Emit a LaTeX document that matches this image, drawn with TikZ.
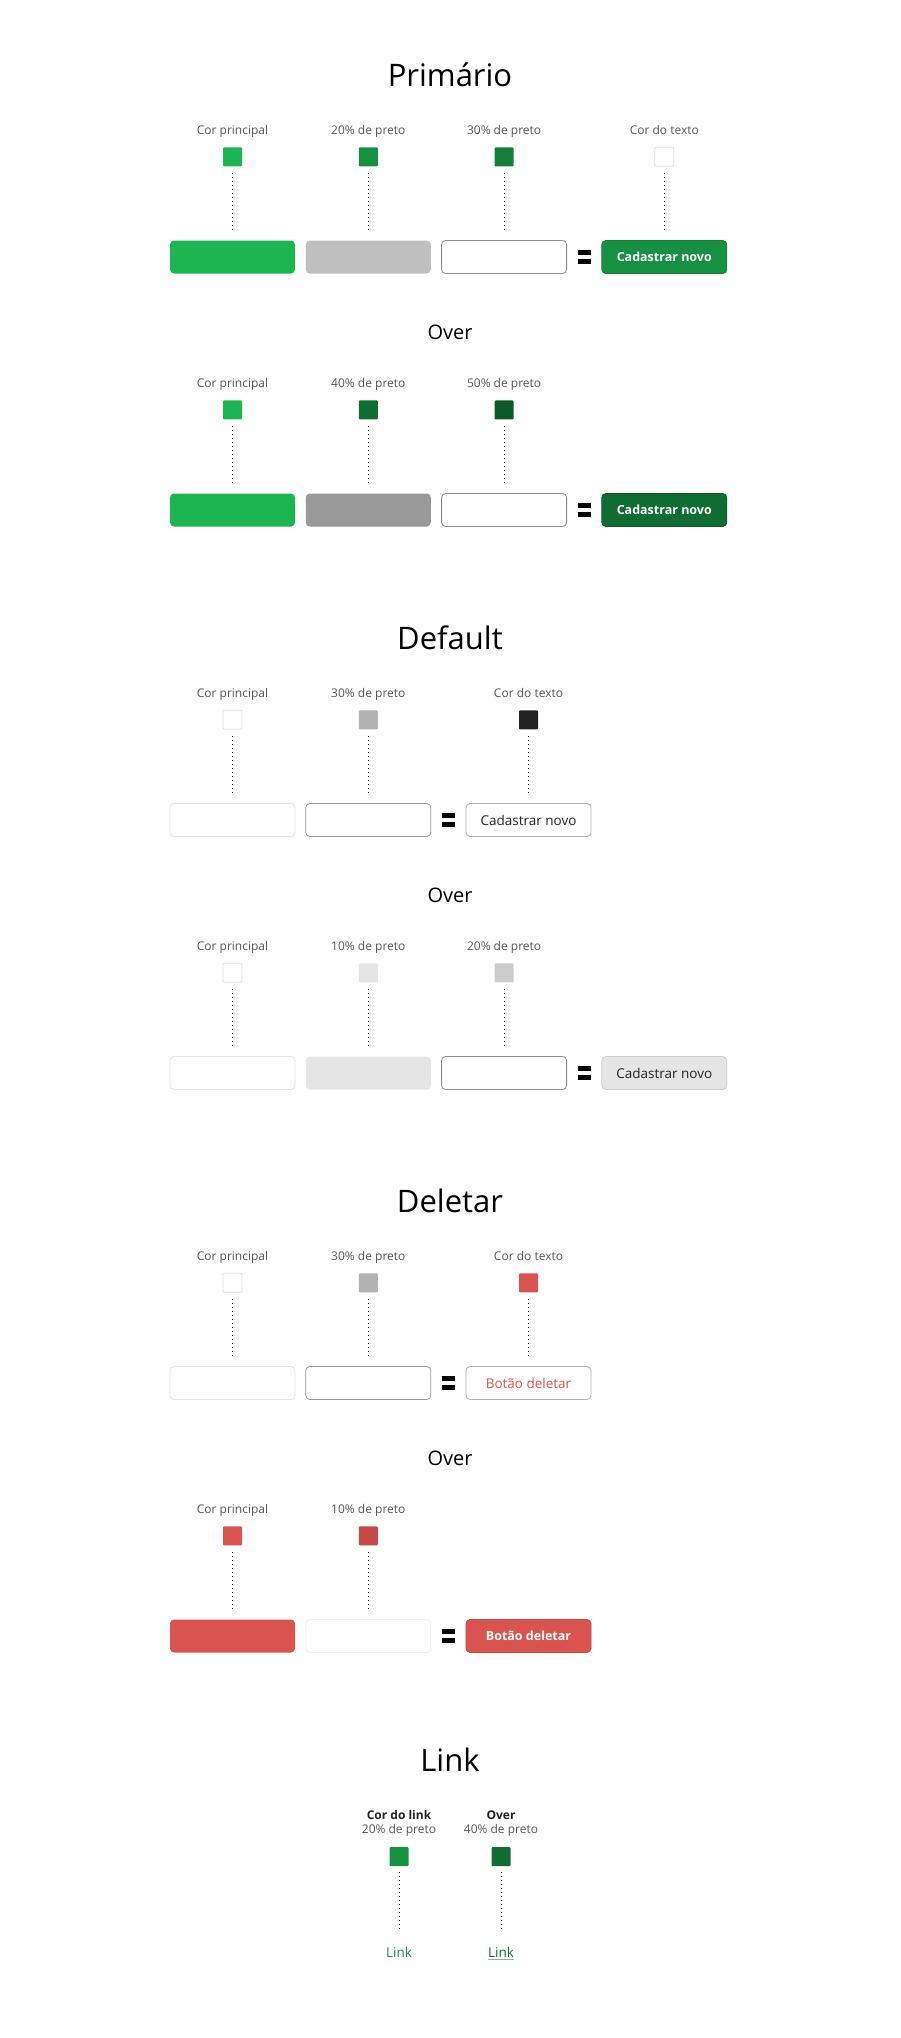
\documentclass[tikz,border=0pt]{standalone}
\usepackage{fontspec}
\setmainfont{Open Sans}
\usepackage{tikz}
\usetikzlibrary{positioning}

\definecolor{verde}{RGB}{27,181,82}
\definecolor{vermelho}{RGB}{217,83,79}
\definecolor{cinzaRotulo}{RGB}{85,85,85}
\definecolor{tinta}{RGB}{34,34,34}

\newcommand{\sinalIgual}{\vbox{\hrule width 13pt height 5pt depth 0pt\vskip 3.5pt\hrule width 13pt height 5pt depth 0pt}}

\begin{document}
\begin{tikzpicture}[x=1pt,y=-1pt,
	titulo/.style={font=\fontsize{31}{36}\selectfont,text=black,anchor=base,inner sep=0},
	subtitulo/.style={font=\fontsize{20}{24}\selectfont,text=black,anchor=base,inner sep=0},
	rotulo/.style={font=\fontsize{12}{14}\selectfont,text=cinzaRotulo,anchor=base,inner sep=0},
	amostra/.style={minimum size=19pt,inner sep=0,rounded corners=1pt},
	branca/.style={amostra,fill=white,draw=black!12,line width=0.8pt},
	caixa/.style={minimum width=125pt,minimum height=33pt,inner sep=0,rounded corners=4pt,line width=0.8pt},
	botao/.style={caixa,font=\fontsize{12.5}{15}\selectfont\bfseries,text=white},
	botaoClaro/.style={caixa,font=\fontsize{13.5}{16}\selectfont},
	link/.style={font=\fontsize{13.5}{16}\selectfont,anchor=base,inner sep=0},
	pontos/.style={line width=1pt,dash pattern=on 1pt off 3pt,shorten <=6pt,shorten >=8pt},
	igual/.style={inner sep=0}]
\fill[white] (0,0) rectangle (900,2038);
\useasboundingbox (0,0) rectangle (900,2038);

% Primario
\node[titulo] (tPrim) at (450,86.7) {Primário};
\node[caixa,fill=verde] (cA1) at (232.5,257) {};
\node[caixa,fill=black!25,right=10pt of cA1] (cA2) {};
\node[caixa,fill=white,draw=black!45,right=10pt of cA2] (cA3) {};
\node[igual,right=10.5pt of cA3] (iA) {\sinalIgual};
\node[botao,fill=verde!80!black,draw=verde!70!black,right=10.5pt of iA] (cA4) {Cadastrar novo};
\node[amostra,fill=verde,above=73.5pt of cA1] (sA1) {};
\node[amostra,fill=verde!80!black,above=73.5pt of cA2] (sA2) {};
\node[amostra,fill=verde!70!black,above=73.5pt of cA3] (sA3) {};
\node[branca,above=73.5pt of cA4] (sA4) {};
\foreach \n/\txt in {1/Cor principal,2/20\% de preto,3/30\% de preto,4/Cor do texto}{
	\node[rotulo] (rA\n) at ([yshift=22.2pt]sA\n.center) {\txt};
	\draw[pontos] (sA\n) -- (cA\n);
}

\node[subtitulo] (tOverA) at (450,339) {Over};
\node[caixa,fill=verde] (cB1) at (232.5,510) {};
\node[caixa,fill=black!40,right=10pt of cB1] (cB2) {};
\node[caixa,fill=white,draw=black!45,right=10pt of cB2] (cB3) {};
\node[igual,right=10.5pt of cB3] (iB) {\sinalIgual};
\node[botao,fill=verde!60!black,draw=verde!50!black,right=10.5pt of iB] (cB4) {Cadastrar novo};
\node[amostra,fill=verde,above=73.5pt of cB1] (sB1) {};
\node[amostra,fill=verde!60!black,above=73.5pt of cB2] (sB2) {};
\node[amostra,fill=verde!50!black,above=73.5pt of cB3] (sB3) {};
\foreach \n/\txt in {1/Cor principal,2/40\% de preto,3/50\% de preto}{
	\node[rotulo] (rB\n) at ([yshift=22.2pt]sB\n.center) {\txt};
	\draw[pontos] (sB\n) -- (cB\n);
}

% Default
\node[titulo] (tDef) at (450,649) {Default};
\node[caixa,fill=white,draw=black!10] (cC1) at (232.5,820) {};
\node[caixa,fill=white,draw=black!40,right=10pt of cC1] (cC2) {};
\node[igual,right=10.5pt of cC2] (iC) {\sinalIgual};
\node[botaoClaro,fill=white,draw=black!30,text=tinta,right=10.5pt of iC] (cC3) {Cadastrar novo};
\node[branca,above=73.5pt of cC1] (sC1) {};
\node[amostra,fill=black!30,above=73.5pt of cC2] (sC2) {};
\node[amostra,fill=tinta,above=73.5pt of cC3] (sC3) {};
\foreach \n/\txt in {1/Cor principal,2/30\% de preto,3/Cor do texto}{
	\node[rotulo] (rC\n) at ([yshift=22.2pt]sC\n.center) {\txt};
	\draw[pontos] (sC\n) -- (cC\n);
}

\node[subtitulo] (tOverC) at (450,902) {Over};
\node[caixa,fill=white,draw=black!10] (cD1) at (232.5,1073) {};
\node[caixa,fill=black!10,right=10pt of cD1] (cD2) {};
\node[caixa,fill=white,draw=black!45,right=10pt of cD2] (cD3) {};
\node[igual,right=10.5pt of cD3] (iD) {\sinalIgual};
\node[botaoClaro,fill=black!10,draw=black!20,text=tinta,right=10.5pt of iD] (cD4) {Cadastrar novo};
\node[branca,above=73.5pt of cD1] (sD1) {};
\node[amostra,fill=black!10,above=73.5pt of cD2] (sD2) {};
\node[amostra,fill=black!20,above=73.5pt of cD3] (sD3) {};
\foreach \n/\txt in {1/Cor principal,2/10\% de preto,3/20\% de preto}{
	\node[rotulo] (rD\n) at ([yshift=22.2pt]sD\n.center) {\txt};
	\draw[pontos] (sD\n) -- (cD\n);
}

% Deletar
\node[titulo] (tDel) at (450,1212) {Deletar};
\node[caixa,fill=white,draw=black!10] (cE1) at (232.5,1383) {};
\node[caixa,fill=white,draw=black!40,right=10pt of cE1] (cE2) {};
\node[igual,right=10.5pt of cE2] (iE) {\sinalIgual};
\node[botaoClaro,fill=white,draw=black!30,text=vermelho,right=10.5pt of iE] (cE3) {Botão deletar};
\node[branca,above=73.5pt of cE1] (sE1) {};
\node[amostra,fill=black!30,above=73.5pt of cE2] (sE2) {};
\node[amostra,fill=vermelho,above=73.5pt of cE3] (sE3) {};
\foreach \n/\txt in {1/Cor principal,2/30\% de preto,3/Cor do texto}{
	\node[rotulo] (rE\n) at ([yshift=22.2pt]sE\n.center) {\txt};
	\draw[pontos] (sE\n) -- (cE\n);
}

\node[subtitulo] (tOverE) at (450,1465) {Over};
\node[caixa,fill=vermelho] (cF1) at (232.5,1636) {};
\node[caixa,fill=white,draw=black!6,right=10pt of cF1] (cF2) {};
\node[igual,right=10.5pt of cF2] (iF) {\sinalIgual};
\node[botao,fill=vermelho,draw=vermelho!90!black,right=10.5pt of iF] (cF3) {Botão deletar};
\node[amostra,fill=vermelho,above=73.5pt of cF1] (sF1) {};
\node[amostra,fill=vermelho!90!black,above=73.5pt of cF2] (sF2) {};
\foreach \n/\txt in {1/Cor principal,2/10\% de preto}{
	\node[rotulo] (rF\n) at ([yshift=22.2pt]sF\n.center) {\txt};
	\draw[pontos] (sF\n) -- (cF\n);
}

% Link
\node[titulo] (tLink) at (450,1771) {Link};
\node[amostra,fill=verde!80!black] (sG1) at (399,1856.5) {};
\node[amostra,fill=verde!60!black] (sG2) at (501,1856.5) {};
\node[rotulo,text=tinta,font=\fontsize{12}{14}\selectfont\bfseries] (rG1) at ([yshift=37.2pt]sG1.center) {Cor do link};
\node[rotulo] (rG1b) at ([yshift=23.2pt]sG1.center) {20\% de preto};
\node[rotulo,text=tinta,font=\fontsize{12}{14}\selectfont\bfseries] (rG2) at ([yshift=37.2pt]sG2.center) {Over};
\node[rotulo] (rG2b) at ([yshift=23.2pt]sG2.center) {40\% de preto};
\node[link,text=verde!80!black] (lG1) at (399,1957.5) {Link};
\node[link,text=verde!60!black] (lG2) at (501,1957.5) {Link};
\draw[verde!60!black!50,line width=0.8pt] ([yshift=-2pt]lG2.base west) -- ([yshift=-2pt]lG2.base east);
\draw[pontos,shorten >=17pt] (sG1) -- (lG1);
\draw[pontos,shorten >=17pt] (sG2) -- (lG2);
\end{tikzpicture}
\end{document}
